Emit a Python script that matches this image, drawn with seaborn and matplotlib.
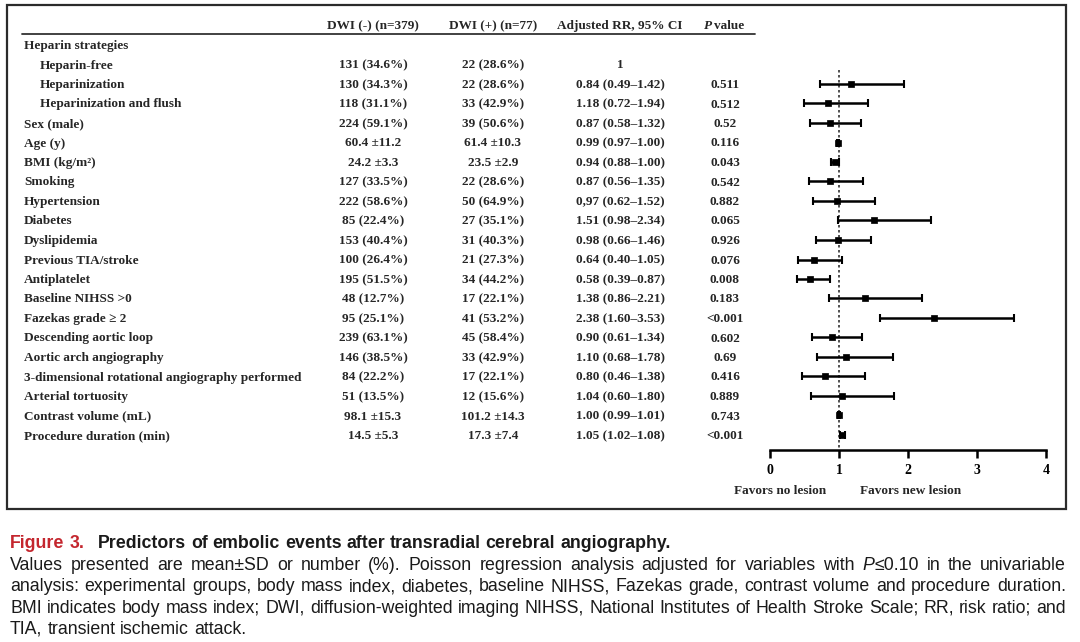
import matplotlib
matplotlib.use("Agg")
import numpy as np
import pandas as pd
import matplotlib.pyplot as plt
import seaborn as sns
from matplotlib.patches import Rectangle

# table rows
labels = ["Heparin strategies", "Heparin-free", "Heparinization", "Heparinization and flush",
          "Sex (male)", "Age (y)", "BMI (kg/m\u00b2)", "Smoking", "Hypertension", "Diabetes",
          "Dyslipidemia", "Previous TIA/stroke", "Antiplatelet", "Baseline NIHSS >0",
          "Fazekas grade \u2265 2", "Descending aortic loop", "Aortic arch angiography",
          "3-dimensional rotational angiography performed", "Arterial tortuosity",
          "Contrast volume (mL)", "Procedure duration (min)"]
indented = [False, True, True, True] + [False] * 17
dwi_neg = ["", "131 (34.6%)", "130 (34.3%)", "118 (31.1%)", "224 (59.1%)", "60.4 \u00b111.2",
           "24.2 \u00b13.3", "127 (33.5%)", "222 (58.6%)", "85 (22.4%)", "153 (40.4%)",
           "100 (26.4%)", "195 (51.5%)", "48 (12.7%)", "95 (25.1%)", "239 (63.1%)",
           "146 (38.5%)", "84 (22.2%)", "51 (13.5%)", "98.1 \u00b115.3", "14.5 \u00b15.3"]
dwi_pos = ["", "22 (28.6%)", "22 (28.6%)", "33 (42.9%)", "39 (50.6%)", "61.4 \u00b110.3",
           "23.5 \u00b12.9", "22 (28.6%)", "50 (64.9%)", "27 (35.1%)", "31 (40.3%)",
           "21 (27.3%)", "34 (44.2%)", "17 (22.1%)", "41 (53.2%)", "45 (58.4%)",
           "33 (42.9%)", "17 (22.1%)", "12 (15.6%)", "101.2 \u00b114.3", "17.3 \u00b17.4"]
rr_text = ["", "1", "0.84 (0.49\u20131.42)", "1.18 (0.72\u20131.94)", "0.87 (0.58\u20131.32)",
           "0.99 (0.97\u20131.00)", "0.94 (0.88\u20131.00)", "0.87 (0.56\u20131.35)",
           "0,97 (0.62\u20131.52)", "1.51 (0.98\u20132.34)", "0.98 (0.66\u20131.46)",
           "0.64 (0.40\u20131.05)", "0.58 (0.39\u20130.87)", "1.38 (0.86\u20132.21)",
           "2.38 (1.60\u20133.53)", "0.90 (0.61\u20131.34)", "1.10 (0.68\u20131.78)",
           "0.80 (0.46\u20131.38)", "1.04 (0.60\u20131.80)", "1.00 (0.99\u20131.01)",
           "1.05 (1.02\u20131.08)"]
p_text = ["", "", "0.511", "0.512", "0.52", "0.116", "0.043", "0.542", "0.882", "0.065",
          "0.926", "0.076", "0.008", "0.183", "<0.001", "0.602", "0.69", "0.416", "0.889",
          "0.743", "<0.001"]

# forest marks as drawn (first two heparin rows are swapped in the plot)
plot_rows = list(range(2, 21))
rr = [1.18, 0.84, 0.87, 0.99, 0.94, 0.87, 0.97, 1.51, 0.98, 0.64, 0.58, 1.38, 2.38,
      0.90, 1.10, 0.80, 1.04, 1.00, 1.05]
ci_lo = [0.72, 0.49, 0.58, 0.97, 0.88, 0.56, 0.62, 0.98, 0.66, 0.40, 0.39, 0.86, 1.60,
         0.61, 0.68, 0.46, 0.60, 0.99, 1.02]
ci_hi = [1.94, 1.42, 1.32, 1.00, 1.00, 1.35, 1.52, 2.34, 1.46, 1.05, 0.87, 2.21, 3.53,
         1.34, 1.78, 1.38, 1.80, 1.01, 1.08]
x_ticks = [0, 1, 2, 3, 4]

caption_title = "Predictors of embolic events after transradial cerebral angiography."
# "|" glues two runs into one word
caption_lines = [
    "Values presented are mean\u00b1SD or number (%). Poisson regression analysis adjusted for variables with *P*|\u22640.10 in the univariable",
    "analysis: experimental groups, body mass index, diabetes, baseline NIHSS, Fazekas grade, contrast volume and procedure duration.",
    "BMI indicates body mass index; DWI, diffusion-weighted imaging NIHSS, National Institutes of Health Stroke Scale; RR, risk ratio; and",
    "TIA, transient ischemic attack.",
]
justify = [True, True, True, False]

sns.set_theme(style="white")
plt.rcParams["font.family"] = ["Liberation Serif", "DejaVu Serif"]
serif = ["Liberation Serif", "DejaVu Serif"]
sans = ["Liberation Sans", "DejaVu Sans"]

W, H = 1080, 642
fig = plt.figure(figsize=(W / 100, H / 100), dpi=100)
bg = fig.add_axes([0, 0, 1, 1])
bg.set_xlim(0, W)
bg.set_ylim(H, 0)
bg.axis("off")

row0, step = 45, 19.5
fs = 9.5
base = 4.0  # center -> baseline offset in px


def cell(x, y, s, ha="center", **kw):
    bg.text(x, y + base, s, ha=ha, va="baseline", fontsize=fs, fontweight="bold", family=serif, **kw)


# border
bg.add_patch(Rectangle((7, 5), 1059, 504, fill=False, lw=1.6, edgecolor="#2b2b2b"))

# header
hy = 25
cell(373, hy, "DWI (-) (n=379)")
cell(493, hy, "DWI (+) (n=77)")
cell(620, hy, "Adjusted RR, 95% CI")
cell(712, hy, "P", ha="right", style="italic")
cell(714, hy, "value", ha="left")
bg.plot([22, 755], [34, 34], color="#333333", lw=1.3)

for i, lab in enumerate(labels):
    y = row0 + step * i
    cell(40 if indented[i] else 24, y, lab, ha="left")
    cell(373, y, dwi_neg[i])
    cell(493, y, dwi_pos[i])
    cell(620, y, rr_text[i])
    cell(725, y, p_text[i])

# forest axes
x0, x1 = 770, 1046
ytop, ybot = 35, 450
ax = fig.add_axes([x0 / W, 1 - ybot / H, (x1 - x0) / W, (ybot - ytop) / H])
ax.set_facecolor("none")
i_top = -(row0 - ytop) / step
i_bot = (ybot - row0) / step
ax.set_xlim(0, 4)
ax.set_ylim(i_bot, i_top)

df = pd.DataFrame({"row": plot_rows, "rr": rr, "lo": ci_lo, "hi": ci_hi})
ax.vlines(1, 1.3, i_bot, colors="#333333", linestyles=(0, (1.5, 1.5)), lw=1.2, zorder=1)
ax.errorbar(df["rr"], df["row"], xerr=[df["rr"] - df["lo"], df["hi"] - df["rr"]], fmt="none",
            ecolor="black", elinewidth=1.8, capsize=3, capthick=1.5, zorder=2)
sns.scatterplot(data=df, x="rr", y="row", marker="s", s=16, color="black", edgecolor="black",
                linewidth=0.5, ax=ax, zorder=3, legend=False)

for side in ["top", "right", "left"]:
    ax.spines[side].set_visible(False)
ax.spines["bottom"].set_color("black")
ax.spines["bottom"].set_linewidth(1.8)
ax.set_xticks(x_ticks)
ax.set_xticklabels([str(t) for t in x_ticks], fontweight="bold", fontsize=fs + 0.5, family=serif)
ax.set_yticks([])
ax.tick_params(axis="x", direction="out", length=6, width=1.8, colors="black", pad=4, bottom=True)
ax.set_xlabel("")
ax.set_ylabel("")

cell(780, 490, "Favors no lesion")
cell(911, 490, "Favors new lesion")

# caption
renderer = fig.canvas.get_renderer()


def text_width(s, size, weight, style="normal"):
    t = bg.text(0, 0, s, fontsize=size, family=sans, fontweight=weight, style=style)
    w = t.get_window_extent(renderer=renderer).width
    t.remove()
    return w


def draw_line(x, y, line, size, right=None, color="#1a1a1a", weight="normal"):
    words = []
    for w in line.split(" "):
        segs = []
        for part in w.split("|"):
            if part.startswith("*") and part.endswith("*"):
                segs.append((part.strip("*"), "italic"))
            else:
                segs.append((part, "normal"))
        words.append(segs)
    widths = [sum(text_width(s, size, weight, st) for s, st in segs) for segs in words]
    gap = text_width("a a", size, weight) - 2 * text_width("a", size, weight)
    if right is not None and len(words) > 1:
        gap = (right - x - sum(widths)) / (len(words) - 1)
    for segs, wd in zip(words, widths):
        cx = x
        for s, st in segs:
            bg.text(cx, y, s, ha="left", va="baseline", fontsize=size, style=st,
                    color=color, fontweight=weight, family=sans)
            cx += text_width(s, size, weight, st)
        x += wd + gap


cap_fs = 12.8
cb = 5
draw_line(10, 543 + cb, "Figure 3.", cap_fs, color="#c4262e", weight="bold")
draw_line(98, 543 + cb, caption_title, cap_fs, weight="bold")
for k, line in enumerate(caption_lines):
    draw_line(10, 565 + cb + 21.3 * k, line, cap_fs, right=1066 if justify[k] else None)

fig.savefig("out.png", dpi=100)
